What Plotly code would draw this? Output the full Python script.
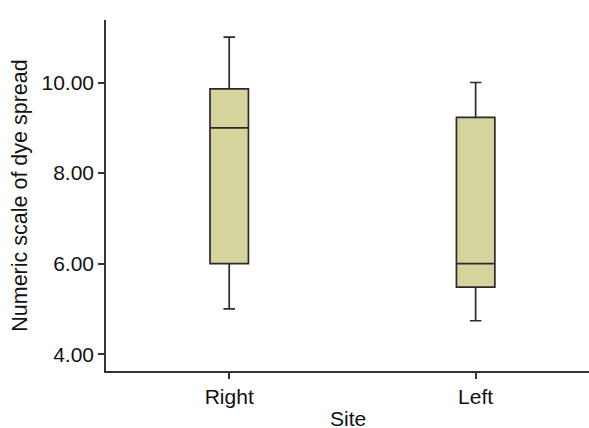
import plotly.graph_objects as go

sites = ["Right", "Left"]
q1 = [6.0, 5.48]
median = [9.0, 6.0]
q3 = [9.86, 9.23]
lower_whisker = [5.0, 4.74]
upper_whisker = [11.0, 10.0]
y_ticks = [4, 6, 8, 10]

FONT = "Liberation Sans, Arial, sans-serif"

fig = go.Figure()
fig.add_trace(go.Box(
    x=sites,
    q1=q1,
    median=median,
    q3=q3,
    lowerfence=lower_whisker,
    upperfence=upper_whisker,
    width=0.156,
    whiskerwidth=0.3,
    fillcolor="#D5D49C",
    line=dict(color="#2b2b2b", width=1.7),
    boxpoints=False,
    showlegend=False,
))

fig.update_layout(
    width=589, height=428,
    margin=dict(l=106, r=0, t=20, b=57),
    paper_bgcolor="white",
    plot_bgcolor="white",
    font=dict(family=FONT, size=21, color="#111"),
)
fig.update_xaxes(
    type="category",
    range=[-0.5, 1.46],
    automargin=False,
    showline=True, linecolor="#333", linewidth=1.5,
    ticks="outside", ticklen=6, tickcolor="#333", tickwidth=1.5,
    showgrid=False, zeroline=False,
    tickfont=dict(size=21),
)
fig.update_yaxes(
    range=[3.63, 11.38],
    automargin=False,
    tickvals=y_ticks,
    tickformat=".2f",
    showline=True, linecolor="#333", linewidth=1.5,
    ticks="outside", ticklen=6, tickcolor="#333", tickwidth=1.5,
    showgrid=False, zeroline=False,
    tickfont=dict(size=21),
    title=dict(text="Numeric scale of dye spread", font=dict(size=21.5), standoff=8),
)
fig.add_annotation(
    text="Site", xref="paper", yref="paper", x=0.5, y=-0.135,
    xanchor="center", yanchor="middle", showarrow=False,
    font=dict(family=FONT, size=21, color="#111"),
)

fig.write_html(
    "out.html",
    config={"displayModeBar": False},
    post_script="document.body.style.margin='0';document.body.style.overflow='hidden';",
)
